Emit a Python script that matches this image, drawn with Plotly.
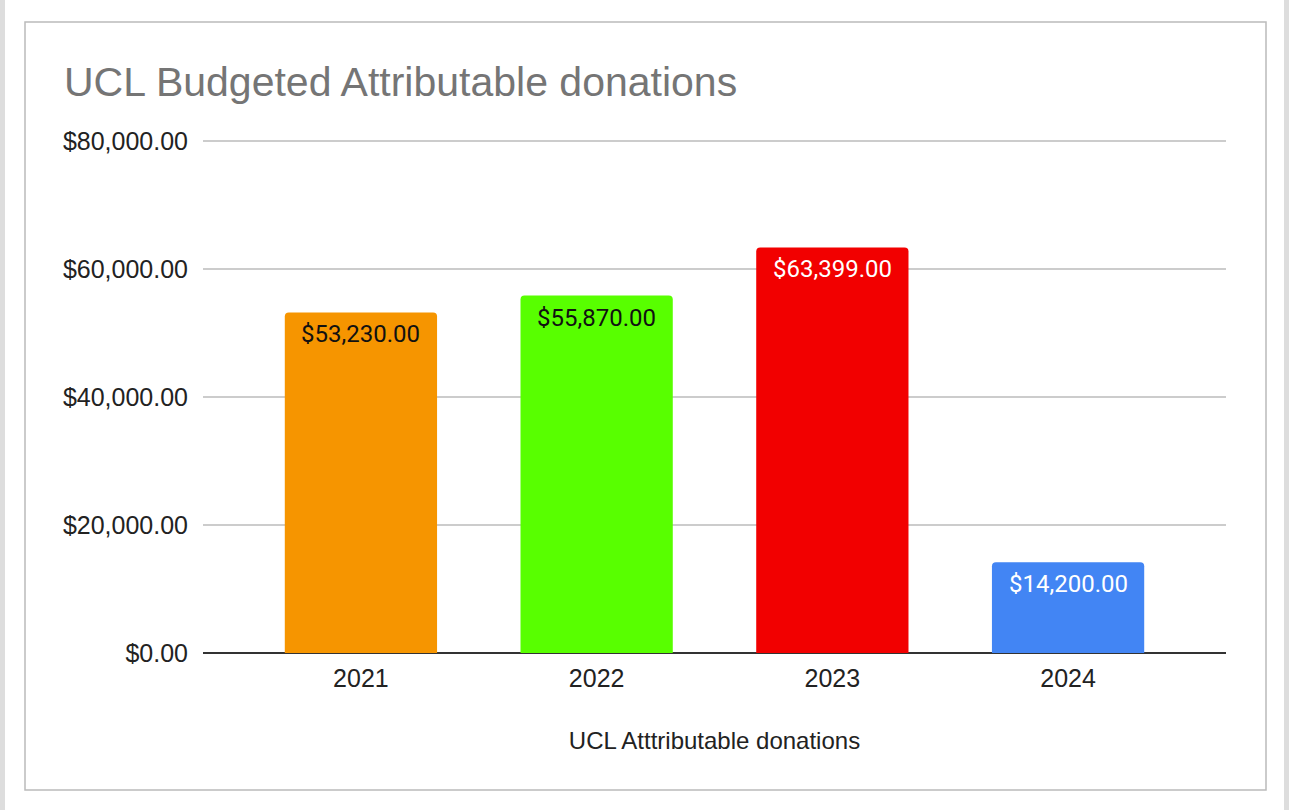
import plotly.graph_objects as go

years = ["2021", "2022", "2023", "2024"]
donations = [53230, 55870, 63399, 14200]
bar_colors = ["#F69500", "#58FF00", "#F20000", "#4285F4"]
label_colors = ["#111111", "#111111", "#FFFFFF", "#FFFFFF"]
y_ticks = [0, 20000, 40000, 60000, 80000]

PH = 515  # plot height in px

fig = go.Figure()
fig.add_trace(go.Bar(
    x=years, y=donations,
    marker=dict(color=bar_colors, line=dict(width=0), cornerradius=4),
    width=0.646,
    hoverinfo="x+y",
))

for i, (v, c) in enumerate(zip(donations, label_colors)):
    fig.add_annotation(
        x=i, y=v, xref="x", yref="y",
        text=f"${v:,.2f}", showarrow=False,
        yanchor="top", yshift=-6,
        font=dict(family="Roboto", size=24, color=c),
    )

fig.update_layout(
    width=1289, height=810,
    paper_bgcolor="white", plot_bgcolor="white",
    margin=dict(l=203, r=63, t=138, b=157, autoexpand=False),
    title=dict(
        text="UCL Budgeted Attributable donations",
        font=dict(family="Liberation Sans, Arial", size=41, color="#757575"),
        x=64 / 1289, xanchor="left", xref="container",
        y=1 - 82 / 810, yanchor="middle", yref="container",
    ),
    showlegend=False,
    xaxis=dict(
        type="category",
        range=[-0.67, 3.67],
        showgrid=False, showline=False, zeroline=False,
        ticks="", ticklabelstandoff=8,
        tickfont=dict(family="Liberation Sans, Arial", size=25, color="#222222"),
        title=dict(text="UCL Atttributable donations", standoff=41,
                   font=dict(family="Liberation Sans, Arial", size=24, color="#222222")),
    ),
    yaxis=dict(
        range=[0, 80500],
        tickvals=y_ticks, tickformat="$,.2f",
        showgrid=True, gridcolor="#CCCCCC", gridwidth=1.5,
        zeroline=True, zerolinecolor="#333333", zerolinewidth=2,
        showline=False, ticks="", ticklabelstandoff=14,
        tickfont=dict(family="Liberation Sans, Arial", size=25, color="#222222"),
    ),
    shapes=[
        dict(type="rect", xref="paper", yref="paper",
             x0=(25 - 203) / 1023, x1=(1266 - 203) / 1023,
             y0=-(790 - 653) / PH, y1=(653 - 22) / PH,
             line=dict(color="#BBBBBB", width=1.5), fillcolor="rgba(0,0,0,0)", layer="below"),
        dict(type="rect", xref="paper", yref="paper",
             x0=(0 - 203) / 1023, x1=(5 - 203) / 1023,
             y0=-(810 - 653) / PH, y1=(653 - 0) / PH,
             line=dict(width=0), fillcolor="#DDDDDD", layer="below"),
        dict(type="rect", xref="paper", yref="paper",
             x0=(1284 - 203) / 1023, x1=(1289 - 203) / 1023,
             y0=-(810 - 653) / PH, y1=(653 - 0) / PH,
             line=dict(width=0), fillcolor="#DDDDDD", layer="below"),
    ],
)

fig.write_html("out.html", config={"displayModeBar": False},
               post_script="document.body.style.margin='0';document.body.style.overflow='hidden';")
